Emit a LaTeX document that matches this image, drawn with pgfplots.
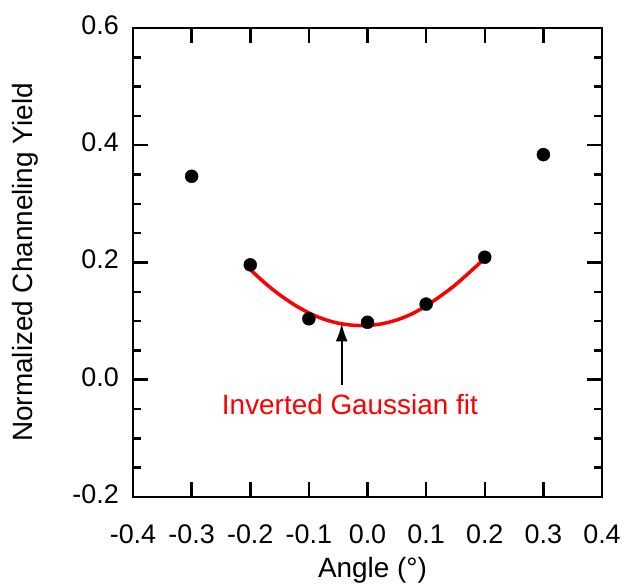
\documentclass[border=0pt]{standalone}
\usepackage{pgfplots}
\pgfplotsset{compat=1.18}
\usetikzlibrary{arrows.meta}
\usepackage{fontspec}
\setmainfont{Liberation Sans}
\begin{document}
\begin{tikzpicture}
\begin{axis}[
  scale only axis,
  width=469bp, height=469bp,
  xmin=-0.4, xmax=0.4, ymin=-0.2, ymax=0.6,
  xtick={-0.4,-0.3,...,0.41},
  ytick={-0.2,0,0.2,0.4,0.6},
  minor y tick num=3,
  tick align=inside,
  major tick length=15bp,
  minor tick length=8bp,
  every tick/.style={line width=2.5bp, black},
  axis line style={line width=2.8bp},
  /pgf/number format/assume math mode=true,
  /pgf/number format/.cd, fixed, fixed zerofill, precision=1, /pgfplots/.cd,
  ticklabel style={font=\fontsize{27}{32}\selectfont, inner sep=0pt},
  xticklabel style={anchor=base, yshift=-46bp},
  yticklabel style={anchor=east, xshift=-14bp, yshift=3bp},
  label style={font=\fontsize{28}{33}\selectfont, inner sep=0pt},
  xlabel={Angle (°)},
  ylabel={Normalized Channeling Yield},
  xlabel style={at={([xshift=5bp,yshift=-80bp]rel axis cs:0.5,0)}, anchor=base},
  ylabel style={at={([xshift=-100bp]rel axis cs:0,0.5)}, anchor=base, rotate=0},
  clip=false,
]
\coordinate (bl) at (rel axis cs:0,0);
\coordinate (tr) at (rel axis cs:1,1);
\addplot[red, line width=3.5bp, smooth] coordinates {
(-0.2,0.188) (-0.175,0.165) (-0.15,0.145) (-0.125,0.128) (-0.1,0.114)
(-0.075,0.1035) (-0.05,0.0965) (-0.025,0.093) (0,0.0925) (0.025,0.0955)
(0.05,0.102) (0.075,0.112) (0.1,0.126) (0.125,0.143) (0.15,0.162)
(0.175,0.184) (0.2,0.207)
};
\addplot[only marks, mark=*, mark size=6.5bp, black] coordinates {
(-0.3,0.347) (-0.2,0.196) (-0.1,0.104) (0.0,0.098) (0.1,0.129) (0.2,0.209) (0.3,0.384)
};
\draw[-{Latex[length=18bp,width=12bp]}, line width=1.8bp] (axis cs:-0.044,-0.009) -- (axis cs:-0.044,0.096);
\node[red, font=\fontsize{28}{33}\selectfont, anchor=base, inner sep=0pt] at (axis cs:-0.03,-0.060) {Inverted Gaussian fit};
\end{axis}
\pgfresetboundingbox
\path ([shift={(-133bp,-87bp)}]bl) rectangle ([shift={(33bp,28bp)}]tr);
\end{tikzpicture}
\end{document}
